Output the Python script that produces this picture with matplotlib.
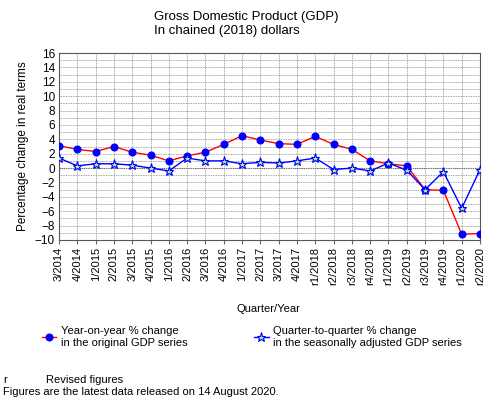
import matplotlib
matplotlib.use("Agg")
import matplotlib.pyplot as plt
from matplotlib.ticker import MultipleLocator
from matplotlib.lines import Line2D

plt.rcParams['font.family'] = ['Liberation Sans', 'DejaVu Sans']

quarters = ["3/2014", "4/2014", "1/2015", "2/2015", "3/2015", "4/2015",
            "1/2016", "2/2016", "3/2016", "4/2016", "1/2017", "2/2017",
            "3/2017", "4/2017", "r1/2018", "r2/2018", "r3/2018", "r4/2018",
            "r1/2019", "r2/2019", "r3/2019", "r4/2019", "r1/2020", "r2/2020"]
yoy = [3.1, 2.6, 2.3, 3.0, 2.2, 1.8, 1.0, 1.7, 2.2, 3.3, 4.5, 3.9,
       3.4, 3.3, 4.4, 3.3, 2.6, 1.0, 0.6, 0.3, -3.0, -3.1, -9.2, -9.1]
qoq = [1.4, 0.3, 0.6, 0.6, 0.4, 0.0, -0.4, 1.4, 1.0, 1.0, 0.6, 0.8,
       0.7, 1.0, 1.4, -0.2, 0.0, -0.4, 0.7, -0.3, -3.0, -0.5, -5.6, -0.2]

fig = plt.figure(figsize=(5, 4), dpi=100)
ax = fig.add_axes([0.118, 0.40, 0.842, 0.4675])
x = list(range(len(quarters)))

ax.plot(x, yoy, color='red', lw=1.0, marker='o', ms=4.8,
        mfc='blue', mec='blue', zorder=3)
ax.plot(x, qoq, color='blue', lw=1.0, marker='*', ms=6.5,
        mfc='#a8e8a0', mec='blue', mew=0.8, zorder=3)

ax.set_xlim(0, len(quarters) - 1)
ax.set_ylim(-10, 16)
ax.yaxis.set_major_locator(MultipleLocator(2))
ax.yaxis.set_minor_locator(MultipleLocator(1))
ax.set_xticks(x)
ax.set_xticklabels(quarters, rotation=90, fontsize=8)
ax.tick_params(axis='y', labelsize=8.5, length=0, pad=3)
ax.tick_params(axis='y', which='minor', length=0)
ax.tick_params(axis='x', length=3, color='#666666', pad=2)
ax.grid(True, which='both', axis='y', color='#888888', ls=(0, (1, 1)), lw=0.6)
ax.grid(True, which='major', axis='x', color='#888888', ls=(0, (1, 1)), lw=0.6)
ax.axhline(0, color='#555555', ls=(0, (1, 1)), lw=0.8, zorder=1)
for s in ax.spines.values():
    s.set_color('#555555')
    s.set_linestyle((0, (1, 1)))
    s.set_linewidth(0.8)

ax.set_ylabel("Percentage change in real terms", fontsize=8.5, labelpad=4)

fig.text(0.308, 0.972, "Gross Domestic Product (GDP)\nIn chained (2018) dollars",
         ha='left', va='top', fontsize=9.5, linespacing=1.15)
fig.text(0.536, 0.228, "Quarter/Year", ha='center', va='center', fontsize=8)

h1 = Line2D([], [], color='red', lw=1.0, marker='o', ms=4.8,
            mfc='blue', mec='blue')
h2 = Line2D([], [], color='blue', lw=1.0, marker='*', ms=6.5,
            mfc='#a8e8a0', mec='blue', mew=0.8)
fig.legend([h1, h2],
           ["Year-on-year % change\nin the original GDP series",
            "Quarter-to-quarter % change\nin the seasonally adjusted GDP series"],
           loc='center left', bbox_to_anchor=(0.064, 0.157), ncol=2,
           frameon=False, fontsize=8, handlelength=1.3, handletextpad=0.4,
           columnspacing=6.0)

fig.text(0.006, 0.05, "r", fontsize=8, va='center')
fig.text(0.092, 0.05, "Revised figures", fontsize=8, va='center')
fig.text(0.006, 0.02, "Figures are the latest data released on 14 August 2020.",
         fontsize=8, va='center')

fig.savefig("out.png", dpi=100)
